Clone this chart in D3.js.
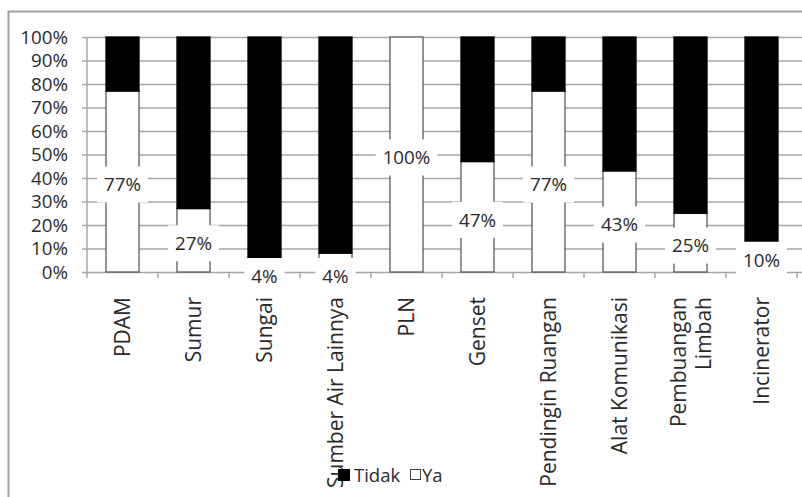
<!DOCTYPE html>
<html>
<head>
<meta charset="utf-8">
<script src="https://cdn.jsdelivr.net/npm/d3@7"></script>
<style>
  html, body { margin: 0; padding: 0; background: #fff; }
  svg { display: block; font-family: "Open Sans", "Noto Sans", sans-serif; }
</style>
</head>
<body>
<svg id="chart" width="802" height="497"></svg>
<script>
// ---- data ----
const categories = ["PDAM", "Sumur", "Sungai", "Sumber Air Lainnya", "PLN", "Genset",
  "Pendingin Ruangan", "Alat Komunikasi", "Pembuangan Limbah", "Incinerator"];
const categoryLines = [["PDAM"], ["Sumur"], ["Sungai"], ["Sumber Air Lainnya"], ["PLN"], ["Genset"],
  ["Pendingin Ruangan"], ["Alat Komunikasi"], ["Pembuangan", "Limbah"], ["Incinerator"]];
const ya = [77, 27, 4, 4, 100, 47, 77, 43, 25, 10];
const tidak = [23, 73, 63, 46, 0, 53, 23, 57, 75, 67];
const yTicks = [0, 0.1, 0.2, 0.3, 0.4, 0.5, 0.6, 0.7, 0.8, 0.9, 1];
const seriesNames = ["Tidak", "Ya"];

// ---- layout ----
const svg = d3.select("#chart");
const plotL = 87, plotR = 797, plotT = 37, plotB = 272;
const gridColor = "#a6a6a6";
const textColor = "#2a2a2a";
const FONT = "'Open Sans', sans-serif";

const rows = categories.map((c, i) => ({ cat: c, Ya: ya[i], Tidak: tidak[i] }));
const stack = d3.stack().keys(["Ya", "Tidak"]).offset(d3.stackOffsetExpand);
const stacked = stack(rows);

const x = d3.scaleBand().domain(categories).range([plotL, plotR]).paddingInner(0.535).paddingOuter(0.2675);
const xb = d3.scaleBand().domain(categories).range([plotL, plotR]);
const y = d3.scaleLinear().domain([0, 1]).range([plotB, plotT]);

// outer border
svg.append("rect").attr("x", 8.5).attr("y", 11.5).attr("width", 820).attr("height", 520)
  .attr("fill", "none").attr("stroke", "#a0a0a0").attr("stroke-width", 2);

// gridlines + y axis
const yAxis = d3.axisLeft(y).tickValues(yTicks).tickFormat(d3.format(".0%"))
  .tickSize(-(plotR - plotL + 5)).tickPadding(19);
const gy = svg.append("g").attr("transform", `translate(${plotL},0)`).call(yAxis);
gy.selectAll(".tick line").attr("stroke", gridColor).attr("stroke-width", 1.5).attr("x1", -5).attr("x2", plotR - plotL + 5);
gy.select(".domain").attr("stroke", gridColor).attr("stroke-width", 1.5).attr("d", `M0,${plotT}V${plotB}`);
gy.selectAll(".tick text").attr("font-size", 18.8).attr("fill", textColor).attr("font-family", FONT);

// x axis ticks at band boundaries
const xTickVals = categories.map(c => xb(c)).concat([plotR]);
svg.append("g").selectAll("line").data(xTickVals).join("line")
  .attr("x1", d => d).attr("x2", d => d).attr("y1", plotB).attr("y2", plotB + 6)
  .attr("stroke", gridColor).attr("stroke-width", 1.5);

// bars
const colors = { Ya: "#ffffff", Tidak: "#000000" };
stacked.forEach(s => {
  svg.append("g").selectAll("rect").data(s).join("rect")
    .attr("x", d => x(d.data.cat))
    .attr("width", x.bandwidth())
    .attr("y", d => y(d[1]))
    .attr("height", d => Math.max(0, y(d[0]) - y(d[1])))
    .attr("fill", colors[s.key])
    .attr("stroke", s.key === "Ya" ? "#5a5a5a" : "#000")
    .attr("stroke-width", 1.3);
});

// data labels for Ya
const yaSeries = stacked[0];
const lbl = svg.append("g");
yaSeries.forEach((d, i) => {
  const cx = x(d.data.cat) + x.bandwidth() / 2;
  const segH = y(d[0]) - y(d[1]);
  const cy = segH < 24 ? y(d[0]) + 4 : (y(d[0]) + y(d[1])) / 2 + 3;
  const t = lbl.append("text").attr("x", cx).attr("y", cy).attr("dy", "0.36em")
    .attr("text-anchor", "middle").attr("font-size", 18.8).attr("fill", textColor)
    .attr("font-family", FONT)
    .text(ya[i] + "%");
  const w = t.node().getComputedTextLength();
  lbl.insert("rect", "text").attr("x", cx - w / 2 - 7).attr("y", cy - 18).attr("width", w + 14).attr("height", 36)
    .attr("fill", "#fff");
});

// category labels (rotated)
const cl = svg.append("g");
categoryLines.forEach((lines, i) => {
  const cx = xb(categories[i]) + xb.bandwidth() / 2;
  const n = lines.length;
  lines.forEach((ln, j) => {
    const off = (j - (n - 1) / 2) * 25;
    cl.append("text")
      .attr("transform", `translate(${cx + off},${plotB + 25}) rotate(-90)`)
      .attr("text-anchor", "end").attr("dy", "0.36em")
      .attr("font-size", 21).attr("fill", textColor).attr("font-family", FONT).text(ln);
  });
});

// legend
const lg = svg.append("g").attr("transform", "translate(338,475)");
lg.append("rect").attr("x", 0).attr("y", -6).attr("width", 12).attr("height", 12).attr("fill", "#000");
lg.append("text").attr("x", 16).attr("y", 0).attr("dy", "0.36em").attr("font-size", 18.5).attr("fill", textColor)
  .attr("font-family", FONT).text(seriesNames[0]);
lg.append("rect").attr("x", 72.5).attr("y", -5.5).attr("width", 10).attr("height", 10).attr("fill", "#fff").attr("stroke", "#444").attr("stroke-width", 1);
lg.append("text").attr("x", 84).attr("y", 0).attr("dy", "0.36em").attr("font-size", 18.5).attr("fill", textColor)
  .attr("font-family", FONT).text(seriesNames[1]);
</script>
</body>
</html>
